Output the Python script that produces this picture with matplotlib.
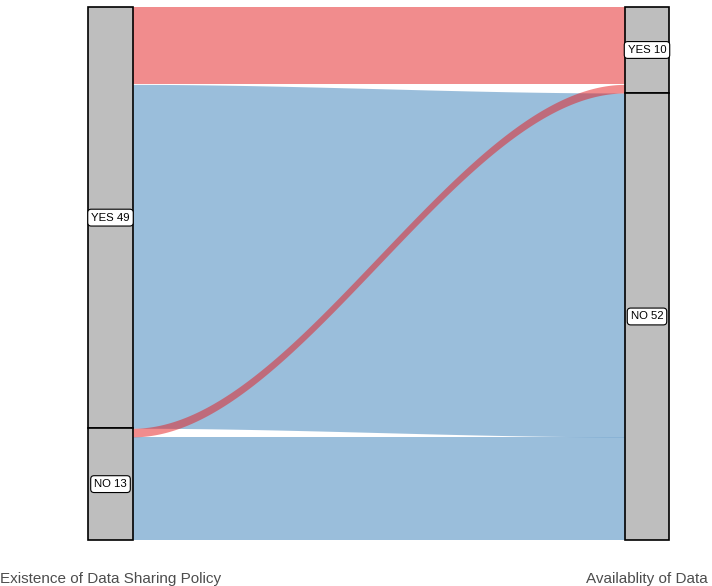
import numpy as np
import matplotlib
matplotlib.use('Agg')
import matplotlib.pyplot as plt

plt.rcParams['font.family'] = ['Liberation Sans', 'DejaVu Sans']

axis_labels = ['Existence of Data Sharing Policy', 'Availablity of Data']
levels = ['YES', 'NO']
flow_from = ['YES', 'YES', 'NO', 'NO']
flow_to = ['YES', 'NO', 'YES', 'NO']
flow_n = [9, 40, 1, 12]

fill = {'YES': '#E41A1C', 'NO': '#377EB8'}
total = sum(flow_n)
w = 1 / 12

fig = plt.figure(figsize=(7.12, 5.86), dpi=100)
ax = fig.add_axes([0, 20 / 586, 1, 566 / 586])
ax.set_xlim(1 - 110.5 / 536.5, 2 + 65 / 536.5)
ax.set_ylim(-26 / 8.597, total + 7 / 8.597)


def stack(order):
    # top-down positions of each flow inside a stratum axis
    pos = {}
    top = total
    for i in order:
        pos[i] = (top, top - flow_n[i])
        top -= flow_n[i]
    return pos

idx = range(len(flow_n))
left_order = sorted(idx, key=lambda i: (levels.index(flow_from[i]), levels.index(flow_to[i])))
right_order = sorted(idx, key=lambda i: (levels.index(flow_to[i]), levels.index(flow_from[i])))
lpos = stack(left_order)
rpos = stack(right_order)

x0, x1 = 1 + w / 2, 2 - w / 2
t = np.linspace(0, 1, 200)
s = 3 * t ** 2 - 2 * t ** 3
xs = x0 + (x1 - x0) * t

# blue flows first, red on top
for i in sorted(idx, key=lambda i: flow_to[i] == 'YES'):
    (lt, lb), (rt, rb) = lpos[i], rpos[i]
    top = lt + (rt - lt) * s
    bot = lb + (rb - lb) * s
    ax.fill_between(xs, bot, top, color=fill[flow_to[i]], alpha=0.5, lw=0)

# strata
for x, col in [(1, flow_from), (2, flow_to)]:
    top = total
    for lev in levels:
        n = sum(v for v, c in zip(flow_n, col) if c == lev)
        ax.add_patch(plt.Rectangle((x - w / 2, top - n), w, n, facecolor='#BEBEBE',
                                   edgecolor='black', lw=1.2, zorder=3))
        ax.text(x, top - n / 2, f'{lev} {n}', ha='center', va='center', fontsize=8.2,
                zorder=4, bbox=dict(boxstyle='round,pad=0.3,rounding_size=0.3',
                                    fc='white', ec='black', lw=0.8))
        top -= n

ax.set_xticks([1, 2], axis_labels, fontsize=11, color='#4d4d4d')
ax.tick_params(axis='x', length=0, pad=4)
ax.set_yticks([])
for sp in ax.spines.values():
    sp.set_visible(False)

fig.savefig('out.png', dpi=100)
